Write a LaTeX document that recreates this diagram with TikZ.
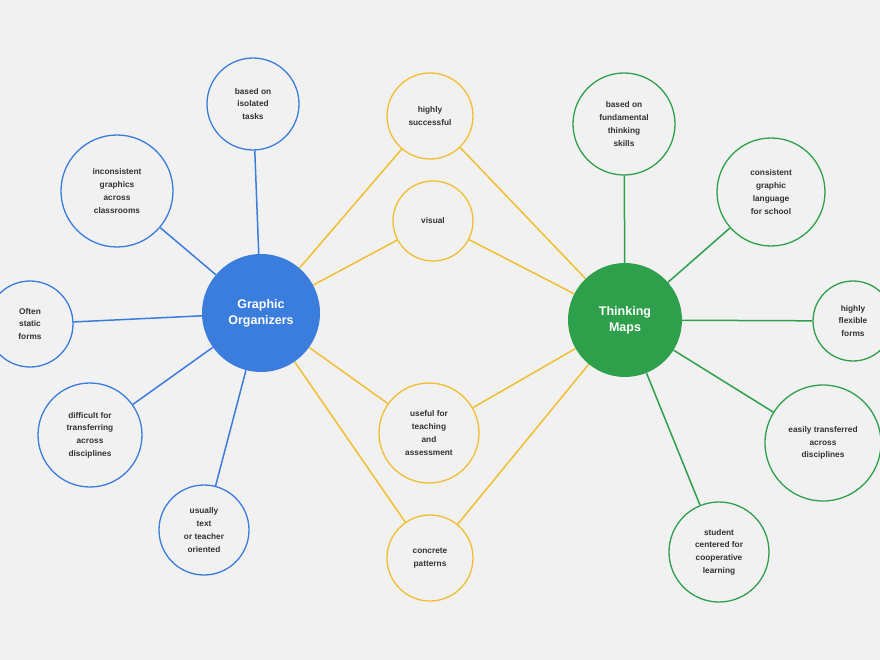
\documentclass[tikz,border=0pt]{standalone}
\usepackage{fontspec}
\setmainfont{Liberation Sans}
\definecolor{bgcol}{HTML}{F1F1F1}
\definecolor{gblue}{HTML}{3B7DDD}
\definecolor{ggreen}{HTML}{2EA04C}
\definecolor{gyellow}{HTML}{F1BE32}
\definecolor{txt}{HTML}{333333}
\begin{document}
\begin{tikzpicture}[x=1pt, y=-1pt,
    hub/.style={circle, minimum size=#1*2pt, inner sep=0pt, align=center,
        text=white, font=\bfseries\fontsize{12.5}{16}\selectfont},
    leaf/.style={circle, minimum size=#1*2pt, inner sep=0pt, align=center, fill=bgcol,
        line width=1.3pt, text=txt, font=\bfseries\fontsize{8.3}{12.7}\selectfont},
    bluelink/.style={draw=gblue, line width=1.5pt},
    greenlink/.style={draw=ggreen, line width=1.5pt},
    yellowlink/.style={draw=gyellow, line width=1.5pt}]
% background and frame
\fill[bgcol] (0,0) rectangle (880,660);
\useasboundingbox (0,0) rectangle (880,660);

% hubs
\node[hub=59, fill=gblue] (go) at (261,313) {Graphic\\Organizers};
\node[hub=57, fill=ggreen] (tm) at (625,320) {Thinking\\Maps};

% graphic organizer leaves
\node[leaf=46, draw=gblue] (isolated) at (253,104) {based on\\isolated\\tasks};
\node[leaf=56, draw=gblue] (inconsistent) at (117,191) {inconsistent\\graphics\\across\\classrooms};
\node[leaf=43, draw=gblue] (static) at (30,324) {Often\\static\\forms};
\node[leaf=52, draw=gblue] (difficult) at (90,435) {difficult for\\transferring\\across\\disciplines};
\node[leaf=45, draw=gblue] (textor) at (204,530) {usually\\text\\or teacher\\oriented};

% shared leaves
\node[leaf=43, draw=gyellow] (successful) at (430,116) {highly\\successful};
\node[leaf=40, draw=gyellow] (visual) at (433,221) {visual};
\node[leaf=50, draw=gyellow] (useful) at (429,433) {useful for\\teaching\\and\\assessment};
\node[leaf=43, draw=gyellow] (concrete) at (430,558) {concrete\\patterns};

% thinking map leaves
\node[leaf=51, draw=ggreen] (fundamental) at (624,124) {based on\\fundamental\\thinking\\skills};
\node[leaf=54, draw=ggreen] (consistent) at (771,192) {consistent\\graphic\\language\\for school};
\node[leaf=40, draw=ggreen] (flexible) at (853,321) {highly\\flexible\\forms};
\node[leaf=58, draw=ggreen] (easily) at (823,443) {easily transferred\\across\\disciplines};
\node[leaf=50, draw=ggreen] (student) at (719,552) {student\\centered for\\cooperative\\learning};

% connectors
\foreach \n in {isolated,inconsistent,static,difficult,textor}
    \draw[bluelink] (go) -- (\n);
\foreach \n in {fundamental,consistent,flexible,easily,student}
    \draw[greenlink] (tm) -- (\n);
\foreach \n in {successful,visual,useful,concrete} {
    \draw[yellowlink] (go) -- (\n);
    \draw[yellowlink] (tm) -- (\n);
}
\end{tikzpicture}
\end{document}
